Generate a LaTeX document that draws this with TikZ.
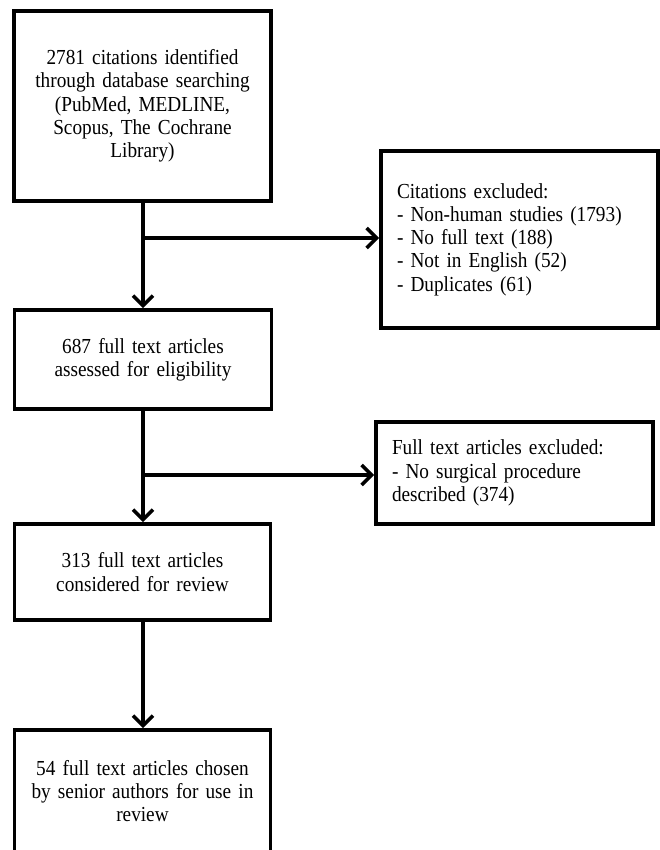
\documentclass[tikz,border=0pt]{standalone}
\usepackage{fontspec}
\setmainfont{Liberation Serif}[FakeStretch=0.9,WordSpace=0.85]
\usetikzlibrary{arrows.meta}
\begin{document}
\begin{tikzpicture}[x=1pt,y=-1pt,
  box/.style={draw=black,line width=3.6pt,align=center,text width=240pt,inner sep=0pt,
    font=\fontsize{21.4}{23.3}\selectfont},
  exbox/.style={draw=black,line width=3.6pt,align=left,text width=245pt,inner xsep=16pt,inner ysep=0pt,
    font=\fontsize{21.4}{23.3}\selectfont},
  arr/.style={line width=3.6pt,-{Straight Barb[length=10pt,width=20pt,line width=3.6pt]}}]
\useasboundingbox (0,0) rectangle (660,850);
\clip (0,0) rectangle (660,850);
\node[box,minimum width=257pt,minimum height=190pt] (b1) at (142.5,106)
  {2781 citations identified\\through database searching\\(PubMed, MEDLINE,\\Scopus, The Cochrane\\Library)};
\node[box,minimum width=257pt,minimum height=99pt] (b2) at (143,359.5)
  {687 full text articles\\assessed for eligibility};
\node[box,minimum width=256pt,minimum height=96pt] (b3) at (142.5,572)
  {313 full text articles\\considered for review};
\node[box,minimum width=256pt,minimum height=122pt] (b4) at (142.5,791)
  {54 full text articles chosen\\by senior authors for use in\\review};
\node[exbox,minimum width=277pt,minimum height=177pt] (e1) at (519.5,239.5)
  {Citations excluded:\\- Non-human studies (1793)\\- No full text (188)\\- Not in English (52)\\- Duplicates (61)};
\node[exbox,minimum width=275pt,minimum height=102pt] (e2) at (514.5,473)
  {Full text articles excluded:\\- No surgical procedure\\described (374)};
\coordinate (j1) at (143,238);
\coordinate (j2) at (143,475);
\draw[arr] (b1.south -| j1) -- (b2.north -| j1);
\draw[arr] (j1) -- (j1 -| e1.west);
\draw[arr] (b2.south -| j2) -- (b3.north -| j2);
\draw[arr] (j2) -- (j2 -| e2.west);
\draw[arr] (b3.south -| j2) -- (b4.north -| j2);
\end{tikzpicture}
\end{document}
